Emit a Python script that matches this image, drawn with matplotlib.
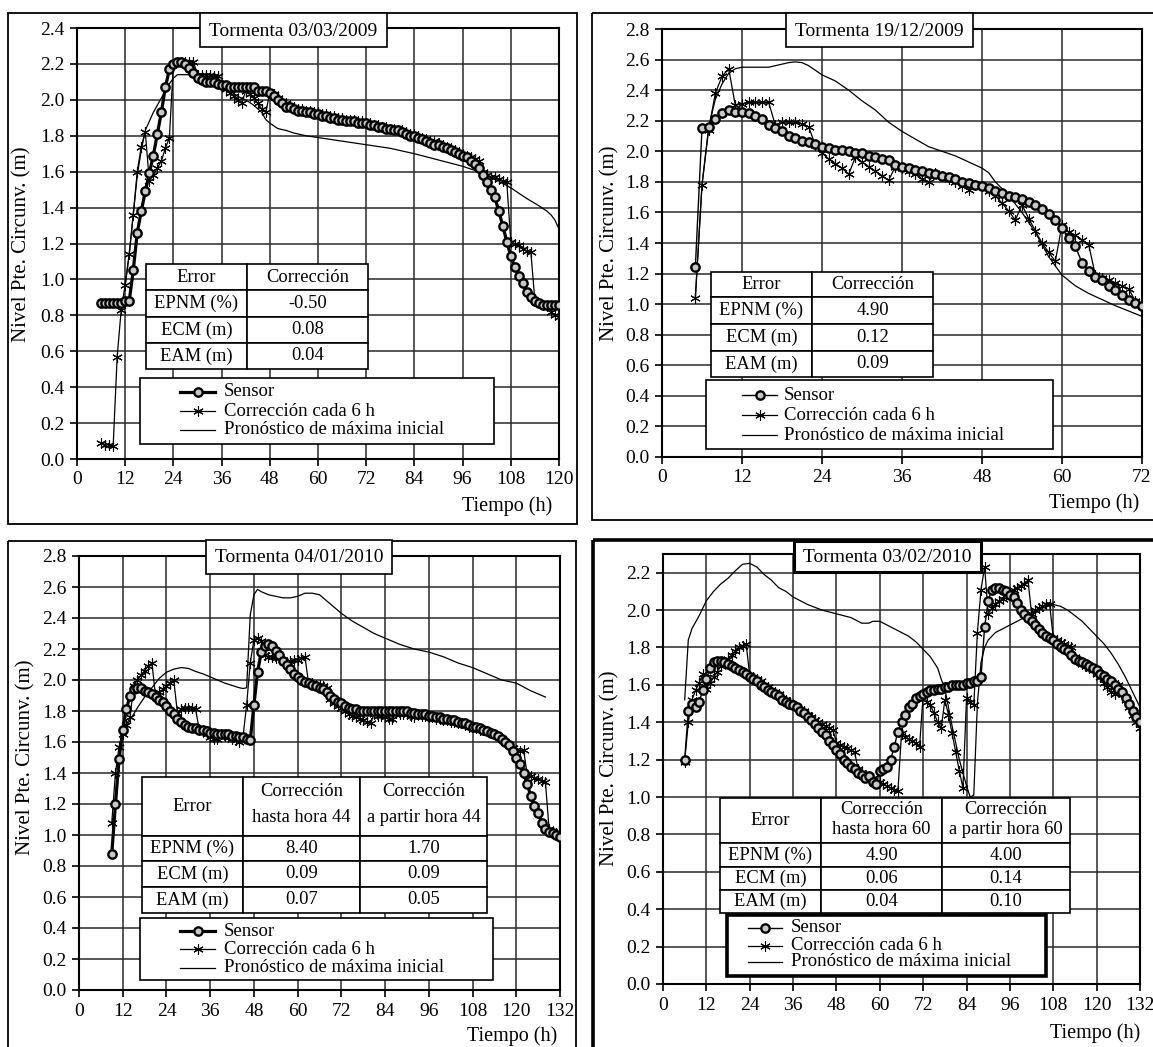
import numpy as np
import matplotlib
matplotlib.use("Agg")
import matplotlib.pyplot as plt
from matplotlib.transforms import Affine2D
from matplotlib.patches import Rectangle
from matplotlib.lines import Line2D
from matplotlib.ticker import FormatStrFormatter

plt.rcParams['font.family'] = ['Liberation Serif', 'DejaVu Serif']

# ---------------- DATA ----------------
titles = ["Tormenta 03/03/2009", "Tormenta 19/12/2009", "Tormenta 04/01/2010", "Tormenta 03/02/2010"]
labels = ["Sensor", "Corrección cada 6 h", "Pronóstico de máxima inicial"]
ylabel = "Nivel Pte. Circunv. (m)"
xlabel = "Tiempo (h)"

# Panel 1: 03/03/2009
t1 = list(range(6, 121))
sensor1 = [0.87, 0.87, 0.87, 0.87, 0.87, 0.87,
           0.88, 0.88, 1.05, 1.26, 1.38, 1.49, 1.59, 1.69, 1.81, 1.93, 2.07, 2.17,
           2.20, 2.21, 2.21, 2.20, 2.18, 2.15, 2.12, 2.11, 2.10, 2.10, 2.10, 2.09,
           2.08, 2.08, 2.07, 2.07, 2.07, 2.07, 2.07, 2.07, 2.07, 2.05, 2.05, 2.05,
           2.04, 2.02, 2.00, 1.98, 1.96, 1.96, 1.95, 1.94, 1.94, 1.93, 1.93, 1.92,
           1.92, 1.91, 1.91, 1.90, 1.90, 1.89, 1.89, 1.88, 1.88, 1.88, 1.87, 1.87,
           1.87, 1.86, 1.86, 1.85, 1.85, 1.84, 1.84, 1.83, 1.83, 1.82, 1.81, 1.80,
           1.80, 1.79, 1.78, 1.77, 1.76, 1.75, 1.75, 1.74, 1.73, 1.72, 1.71, 1.70,
           1.69, 1.68, 1.66, 1.64, 1.62, 1.58, 1.54, 1.50, 1.46, 1.38, 1.30, 1.21,
           1.13, 1.07, 1.02, 0.98, 0.93, 0.90, 0.88, 0.87, 0.86, 0.86, 0.86, 0.86, 0.86]
corr1 = [0.09, 0.08, 0.08, 0.07, 0.57, 0.83, 0.97, 1.14, 1.36, 1.60, 1.74, 1.82,
         1.55, 1.58, 1.62, 1.66, 1.73, 1.79, 2.20, 2.21, 2.21, 2.21, 2.21, 2.21,
         2.14, 2.14, 2.14, 2.14, 2.13, 2.13, 2.08, 2.06, 2.04, 2.02, 2.00, 1.98,
         2.05, 2.03, 2.01, 1.98, 1.95, 1.93, 2.04, 2.03, 2.01, 1.99, 1.98, 1.97,
         1.96, 1.95, 1.95, 1.94, 1.94, 1.93, 1.93, 1.92, 1.92, 1.91, 1.91, 1.90,
         1.90, 1.89, 1.89, 1.89, 1.88, 1.88, 1.87, 1.87, 1.86, 1.86, 1.85, 1.85,
         1.84, 1.84, 1.83, 1.83, 1.82, 1.81, 1.81, 1.80, 1.79, 1.78, 1.77, 1.77,
         1.76, 1.75, 1.74, 1.73, 1.72, 1.71, 1.70, 1.69, 1.68, 1.67, 1.66, 1.60,
         1.58, 1.57, 1.57, 1.56, 1.55, 1.54, 1.21, 1.20, 1.19, 1.17, 1.16, 1.15,
         0.88, 0.87, 0.86, 0.85, 0.82, 0.80, 0.79]
prono1_t = [12, 13, 14, 15, 16, 17, 18, 19, 20, 21, 22, 23, 24, 25, 27, 29, 30, 32, 34, 36,
            38, 40, 42, 44, 46, 47, 48, 50, 52, 54, 57, 60, 66, 72, 78, 84, 90, 96, 100, 104,
            108, 112, 115, 117, 118, 119, 120]
prono1 = [0.97, 1.14, 1.36, 1.58, 1.72, 1.83, 1.88, 1.93, 1.97, 2.01, 2.05, 2.09, 2.12, 2.14,
          2.14, 2.14, 2.12, 2.11, 2.10, 2.07, 2.05, 2.02, 2.00, 1.97, 1.93, 1.89, 1.87, 1.84,
          1.83, 1.815, 1.80, 1.79, 1.77, 1.75, 1.73, 1.70, 1.665, 1.63, 1.60, 1.56, 1.51, 1.45,
          1.41, 1.38, 1.36, 1.33, 1.28]

# Panel 2: 19/12/2009
t2 = list(range(5, 73))
sensor2 = [1.24, 2.15, 2.16, 2.21, 2.25, 2.27, 2.26, 2.26, 2.25, 2.23, 2.21, 2.17,
           2.15, 2.13, 2.10, 2.09, 2.07, 2.06, 2.05, 2.03, 2.02, 2.01, 2.01, 2.00,
           1.99, 1.99, 1.97, 1.96, 1.95, 1.94, 1.91, 1.90, 1.89, 1.88, 1.87, 1.86,
           1.85, 1.84, 1.83, 1.82, 1.80, 1.79, 1.78, 1.77, 1.76, 1.74, 1.73, 1.71,
           1.70, 1.69, 1.67, 1.65, 1.62, 1.59, 1.55, 1.50, 1.43, 1.38, 1.27, 1.22,
           1.18, 1.16, 1.12, 1.09, 1.06, 1.03, 1.01, 0.99]
corr2 = [1.04, 1.78, 2.14, 2.38, 2.49, 2.54, 2.30, 2.31, 2.32, 2.32, 2.32, 2.32,
         2.17, 2.19, 2.19, 2.19, 2.18, 2.16, 2.04, 1.99, 1.95, 1.92, 1.89, 1.85,
         1.96, 1.93, 1.90, 1.87, 1.84, 1.81, 1.90, 1.89, 1.87, 1.85, 1.82, 1.80,
         1.86, 1.84, 1.82, 1.80, 1.77, 1.75, 1.78, 1.77, 1.74, 1.71, 1.66, 1.61,
         1.55, 1.65, 1.56, 1.48, 1.40, 1.34, 1.28, 1.52, 1.47, 1.45, 1.42, 1.39,
         1.19, 1.17, 1.16, 1.14, 1.12, 1.10, 1.02, 0.99]
prono2_t = [5, 6, 7, 8, 9, 10, 11, 12, 14, 16, 18, 19, 20, 21, 22, 23, 24, 25, 26, 28, 30,
            32, 34, 36, 38, 40, 42, 44, 46, 48, 49, 50, 52, 54, 56, 58, 60, 62, 64, 66, 68,
            70, 72]
prono2 = [1.04, 1.78, 2.16, 2.34, 2.44, 2.51, 2.54, 2.55, 2.55, 2.55, 2.57, 2.58, 2.585,
          2.58, 2.56, 2.53, 2.50, 2.48, 2.46, 2.40, 2.33, 2.27, 2.19, 2.13, 2.08, 2.03, 2.00,
          1.97, 1.93, 1.89, 1.86, 1.80, 1.71, 1.60, 1.47, 1.31, 1.19, 1.12, 1.07, 1.03, 0.99,
          0.955, 0.92]

# Panel 3: 04/01/2010
t3 = list(range(9, 133))
sensor3 = [0.88, 1.20, 1.49, 1.68, 1.81, 1.90, 1.94, 1.95, 1.95, 1.93, 1.92, 1.91,
           1.89, 1.87, 1.86, 1.83, 1.80, 1.78, 1.75, 1.73, 1.71, 1.70, 1.69, 1.69,
           1.68, 1.68, 1.67, 1.66, 1.66, 1.65, 1.65, 1.65, 1.65, 1.64, 1.64, 1.63,
           1.63, 1.62, 1.61, 1.84, 2.05, 2.18, 2.22, 2.23, 2.22, 2.19, 2.16, 2.12,
           2.10, 2.07, 2.04, 2.02, 2.00, 1.99, 1.98, 1.97, 1.96, 1.95, 1.94, 1.92,
           1.90, 1.88, 1.86, 1.85, 1.83, 1.82, 1.81, 1.81, 1.80, 1.80, 1.80, 1.80,
           1.80, 1.80, 1.80, 1.80, 1.80, 1.80, 1.80, 1.80, 1.80, 1.80, 1.79, 1.79,
           1.78, 1.78, 1.78, 1.77, 1.77, 1.76, 1.76, 1.75, 1.75, 1.74, 1.74, 1.73,
           1.72, 1.72, 1.71, 1.70, 1.70, 1.69, 1.68, 1.67, 1.66, 1.65, 1.64, 1.62,
           1.60, 1.58, 1.54, 1.50, 1.46, 1.40, 1.33, 1.25, 1.19, 1.14, 1.08, 1.04,
           1.02, 1.01, 1.00, 0.99]
corr3 = [1.08, 1.40, 1.57, 1.65, 1.71, 1.76, 1.96, 2.00, 2.03, 2.06, 2.09, 2.11,
         1.90, 1.92, 1.94, 1.96, 1.98, 2.00, 1.79, 1.81, 1.82, 1.82, 1.82, 1.81,
         1.68, 1.67, 1.65, 1.63, 1.62, 1.62, 1.65, 1.64, 1.63, 1.62, 1.61, 1.60,
         1.63, 1.84, 2.11, 2.26, 2.27, 2.25, 2.16, 2.15, 2.15, 2.14, 2.14, 2.13,
         2.11, 2.12, 2.13, 2.13, 2.14, 2.15, 1.98, 1.98, 1.97, 1.97, 1.96, 1.95,
         1.88, 1.85, 1.83, 1.82, 1.80, 1.78, 1.77, 1.76, 1.75, 1.74, 1.73, 1.72,
         1.78, 1.77, 1.77, 1.76, 1.75, 1.75, 1.79, 1.78, 1.78, 1.78, 1.77, 1.76,
         1.78, 1.77, 1.77, 1.76, 1.76, 1.75, 1.75, 1.74, 1.74, 1.73, 1.73, 1.72,
         1.72, 1.71, 1.70, 1.70, 1.69, 1.68, 1.68, 1.67, 1.66, 1.65, 1.64, 1.62,
         1.60, 1.58, 1.56, 1.55, 1.54, 1.55, 1.39, 1.38, 1.37, 1.36, 1.35, 1.34,
         1.04, 1.02, 1.01, 0.99]
prono3_t = [12, 14, 16, 18, 20, 22, 24, 26, 28, 30, 32, 34, 36, 38, 40, 42, 44, 45, 46, 47,
            48, 49, 50, 52, 54, 56, 58, 60, 62, 64, 66, 68, 70, 72, 75, 78, 81, 84, 88, 92,
            96, 100, 104, 108, 112, 116, 120, 124, 126, 128]
prono3 = [1.65, 1.74, 1.82, 1.89, 1.95, 2.01, 2.05, 2.07, 2.08, 2.075, 2.055, 2.04, 2.02,
          2.00, 1.98, 1.965, 1.95, 1.945, 1.95, 2.42, 2.55, 2.585, 2.57, 2.55, 2.54, 2.53,
          2.53, 2.54, 2.56, 2.56, 2.55, 2.51, 2.47, 2.43, 2.38, 2.34, 2.30, 2.27, 2.23, 2.20,
          2.18, 2.15, 2.11, 2.08, 2.04, 2.00, 1.98, 1.93, 1.91, 1.89]

# Panel 4: 03/02/2010
t4 = list(range(6, 133))
sensor4 = [1.20, 1.46, 1.50, 1.48, 1.51, 1.57, 1.63, 1.69, 1.72, 1.73, 1.73, 1.72,
           1.71, 1.70, 1.69, 1.68, 1.67, 1.66, 1.64, 1.63, 1.62, 1.60, 1.59, 1.57,
           1.56, 1.55, 1.54, 1.52, 1.51, 1.50, 1.49, 1.48, 1.46, 1.45, 1.43, 1.41,
           1.39, 1.37, 1.35, 1.33, 1.30, 1.28, 1.25, 1.23, 1.20, 1.18, 1.16, 1.15,
           1.13, 1.12, 1.10, 1.11, 1.08, 1.07, 1.14, 1.15, 1.16, 1.20, 1.27, 1.35,
           1.40, 1.44, 1.48, 1.50, 1.53, 1.54, 1.55, 1.56, 1.57, 1.57, 1.58, 1.58,
           1.59, 1.59, 1.60, 1.60, 1.60, 1.60, 1.61, 1.61, 1.62, 1.62, 1.64, 1.91,
           2.05, 2.11, 2.12, 2.12, 2.11, 2.10, 2.08, 2.07, 2.04, 2.00, 1.98, 1.96,
           1.94, 1.92, 1.90, 1.88, 1.86, 1.85, 1.84, 1.82, 1.80, 1.79, 1.78, 1.76,
           1.74, 1.73, 1.72, 1.71, 1.70, 1.69, 1.68, 1.66, 1.65, 1.63, 1.62, 1.60,
           1.58, 1.56, 1.53, 1.50, 1.46, 1.43, 1.40]
corr4 = [1.19, 1.40, 1.52, 1.57, 1.61, 1.66, 1.58, 1.61, 1.64, 1.67, 1.70, 1.72,
         1.74, 1.76, 1.78, 1.80, 1.81, 1.82, 1.65, 1.64, 1.63, 1.62, 1.60, 1.59,
         1.57, 1.56, 1.55, 1.53, 1.52, 1.51, 1.49, 1.48, 1.47, 1.46, 1.44, 1.43,
         1.41, 1.40, 1.39, 1.38, 1.37, 1.36, 1.29, 1.28, 1.27, 1.26, 1.25, 1.24,
         1.15, 1.13, 1.12, 1.11, 1.10, 1.08, 1.08, 1.07, 1.06, 1.05, 1.04, 1.03,
         1.34, 1.32, 1.31, 1.30, 1.29, 1.27, 1.55, 1.51, 1.49, 1.45, 1.40, 1.37,
         1.52, 1.44, 1.34, 1.24, 1.14, 1.05, 1.53, 1.51, 1.49, 1.88, 2.11, 2.23,
         1.98, 2.01, 2.03, 2.05, 2.06, 2.08, 2.09, 2.11, 2.12, 2.13, 2.14, 2.16,
         1.98, 2.00, 2.01, 2.02, 2.03, 2.03, 1.85, 1.84, 1.83, 1.82, 1.81, 1.80,
         1.75, 1.73, 1.71, 1.70, 1.69, 1.68, 1.66, 1.64, 1.61, 1.59, 1.56, 1.55,
         1.60, 1.55, 1.52, 1.48, 1.44, 1.40, 1.37]
prono4_t = [6, 7, 8, 10, 12, 14, 16, 18, 20, 22, 24, 26, 28, 30, 32, 34, 36, 38, 40, 44, 48,
            52, 55, 57, 58, 60, 62, 64, 66, 68, 70, 72, 74, 76, 77, 78, 80, 82, 84, 85, 86,
            87, 88, 89, 90, 92, 96, 100, 104, 106, 108, 110, 112, 114, 116, 118, 120, 122,
            124, 126, 128, 130, 132]
prono4 = [1.52, 1.84, 1.90, 1.97, 2.05, 2.10, 2.14, 2.17, 2.21, 2.245, 2.25, 2.23, 2.19,
          2.16, 2.12, 2.10, 2.07, 2.05, 2.03, 2.00, 1.98, 1.96, 1.93, 1.93, 1.94, 1.94, 1.92,
          1.90, 1.88, 1.86, 1.83, 1.79, 1.75, 1.69, 1.63, 1.58, 1.38, 1.20, 1.06, 1.00, 1.01,
          1.50, 1.72, 1.80, 1.84, 1.88, 1.92, 1.96, 2.00, 2.02, 2.03, 2.02, 2.00, 1.97, 1.94,
          1.90, 1.86, 1.82, 1.77, 1.71, 1.64, 1.56, 1.48]

# Error tables
tab_rows = ["EPNM (%)", "ECM (m)", "EAM (m)"]
tab1_head = ["Error", "Corrección"]
tab1_vals = [["-0.50"], ["0.08"], ["0.04"]]
tab2_head = ["Error", "Corrección"]
tab2_vals = [["4.90"], ["0.12"], ["0.09"]]
tab3_head = ["Error", "Corrección\nhasta hora 44", "Corrección\na partir hora 44"]
tab3_vals = [["8.40", "1.70"], ["0.09", "0.09"], ["0.07", "0.05"]]
tab4_head = ["Error", "Corrección\nhasta hora 60", "Corrección\na partir hora 60"]
tab4_vals = [["4.90", "4.00"], ["0.06", "0.14"], ["0.04", "0.10"]]

# ---------------- FIGURE ----------------
W, H = 1153, 1047
fig = plt.figure(figsize=(W / 100, H / 100), dpi=100)
PX = Affine2D().scale(1.0 / W, -1.0 / H).translate(0, 1) + fig.transFigure

MFC = '#c8c8c8'


def rect(x0, y0, x1, y1, lw=1.2, fill=True, z=5):
    r = Rectangle((x0, y0), x1 - x0, y1 - y0, transform=PX,
                  facecolor='white' if fill else 'none', edgecolor='black',
                  linewidth=lw, zorder=z)
    fig.add_artist(r)


def sensor_style(lw):
    return dict(color='black', lw=lw, marker='o', ms=6, mew=1.7, mfc=MFC, mec='black')


corr_style = dict(color='black', lw=0.9, marker=(6, 2, 0), ms=7.5, mew=0.8)
prono_style = dict(color='black', lw=0.9)

panels = [
    dict(box=(77, 28, 559, 459), xmax=120, ymax=2.4, ytop=2.4,
         t=t1, s=sensor1, c=corr1, pt=prono1_t, p=prono1, slw=2.3,
         frame=(8, 13, 577, 524, 1.3), tbox=(200, 13, 387, 47, 1.2),
         ylab=(22, 244), xlab=(507, 506),
         table=dict(xe=[146, 247, 368], ye=[264, 290, 317, 343, 369], head=tab1_head,
                    vals=tab1_vals, hl=None),
         leg=dict(box=(140, 378, 494, 444), hx=(180, 215), tx=224, rows=[392, 411, 430], lw=1.2)),
    dict(box=(662, 29, 1142, 457), xmax=72, ymax=2.8, ytop=2.8,
         t=t2, s=sensor2, c=corr2, pt=prono2_t, p=prono2, slw=1.0,
         frame=(592, 13, 1165, 520, 1.3), tbox=(786, 13, 973, 47, 1.2),
         ylab=(610, 243), xlab=(1094, 503),
         table=dict(xe=[711, 812, 933], ye=[272, 297, 324, 351, 377], head=tab2_head,
                    vals=tab2_vals, hl=None),
         leg=dict(box=(706, 380, 1053, 449), hx=(742, 777), tx=784, rows=[395, 415, 435], lw=1.2)),
    dict(box=(79, 556, 560, 990), xmax=132, ymax=2.8, ytop=2.8,
         t=t3, s=sensor3, c=corr3, pt=prono3_t, p=prono3, slw=2.3,
         frame=(8, 541, 576, 1055, 1.3), tbox=(206, 540, 392, 574, 1.2),
         ylab=(26, 757), xlab=(512, 1036),
         table=dict(xe=[142, 243, 360, 487], ye=[777, 836, 861, 887, 913], head=tab3_head,
                    vals=tab3_vals, hl=(791, 817)),
         leg=dict(box=(140, 918, 493, 980), hx=(180, 215), tx=224, rows=[931, 949, 968], lw=1.2)),
    dict(box=(663, 554, 1140, 984), xmax=132, ymax=2.3, ytop=2.2,
         t=t4, s=sensor4, c=corr4, pt=prono4_t, p=prono4, slw=1.0,
         frame=(593, 540, 1165, 1055, 2.6), tbox=(794, 541, 981, 572, 2.2),
         ylab=(610, 768), xlab=(1095, 1033),
         table=dict(xe=[720, 821, 942, 1070], ye=[798, 843, 867, 890, 913], head=tab4_head,
                    vals=tab4_vals, hl=(810, 830)),
         leg=dict(box=(727, 915, 1046, 976), hx=(748, 782), tx=791, rows=[928, 946, 962], lw=2.6)),
]

for i, P in enumerate(panels):
    l, tp, r, b = P['box']
    ax = fig.add_axes([l / W, 1 - b / H, (r - l) / W, (b - tp) / H])
    ax.set_xlim(0, P['xmax'])
    ax.set_ylim(0, P['ymax'])
    ax.set_xticks(np.arange(0, P['xmax'] + 1, 12))
    ax.set_yticks(np.arange(0, P['ytop'] + 0.01, 0.2))
    ax.yaxis.set_major_formatter(FormatStrFormatter('%.1f'))
    ax.grid(True, color='#2a2a2a', lw=1.1)
    ax.set_axisbelow(True)
    for sp in ax.spines.values():
        sp.set_linewidth(1.5)
    ax.tick_params(direction='out', length=5, width=1.2, labelsize=14, pad=4)

    ax.plot(P['pt'], P['p'], zorder=2, **prono_style)
    ax.plot(P['t'], P['c'], zorder=3, **corr_style)
    ax.plot(P['t'], P['s'], zorder=4, **sensor_style(P['slw']))

    # outer frame
    fx0, fy0, fx1, fy1, flw = P['frame']
    rect(fx0, fy0, fx1, fy1, lw=flw, fill=False, z=5)
    # title box
    bx0, by0, bx1, by1, blw = P['tbox']
    rect(bx0, by0, bx1, by1, lw=blw, z=6)
    fig.text((bx0 + bx1) / 2, (by0 + by1) / 2 + 1, titles[i], transform=PX,
             ha='center', va='center', fontsize=14, zorder=8)
    # axis labels
    fig.text(P['ylab'][0], P['ylab'][1], ylabel, transform=PX, rotation=90,
             ha='center', va='center', fontsize=15)
    fig.text(P['xlab'][0], P['xlab'][1], xlabel, transform=PX,
             ha='center', va='center', fontsize=14.5)

    # error table
    T = P['table']
    xe, ye = T['xe'], T['ye']
    for ci in range(len(xe) - 1):
        rect(xe[ci], ye[0], xe[ci + 1], ye[1], lw=1.2, z=6)
        xc = (xe[ci] + xe[ci + 1]) / 2
        parts = T['head'][ci].split('\n')
        if len(parts) == 1:
            fig.text(xc, (ye[0] + ye[1]) / 2, parts[0], transform=PX, ha='center',
                     va='center', fontsize=13.3, zorder=8)
        else:
            for k, line in enumerate(parts):
                fig.text(xc, T['hl'][k], line, transform=PX, ha='center',
                         va='center', fontsize=13.3, zorder=8)
    for ri in range(3):
        y0, y1 = ye[ri + 1], ye[ri + 2]
        rect(xe[0], y0, xe[1], y1, lw=1.2, z=6)
        fig.text((xe[0] + xe[1]) / 2, (y0 + y1) / 2, tab_rows[ri], transform=PX,
                 ha='center', va='center', fontsize=13.3, zorder=8)
        for ci, v in enumerate(T['vals'][ri]):
            rect(xe[ci + 1], y0, xe[ci + 2], y1, lw=1.2, z=6)
            fig.text((xe[ci + 1] + xe[ci + 2]) / 2, (y0 + y1) / 2, v, transform=PX,
                     ha='center', va='center', fontsize=13.3, zorder=8)

    # legend
    L = P['leg']
    rect(*L['box'], lw=L['lw'], z=6)
    styles = [sensor_style(P['slw']), corr_style, prono_style]
    hx0, hx1 = L['hx']
    for k in range(3):
        y = L['rows'][k]
        ln = Line2D([hx0, (hx0 + hx1) / 2, hx1], [y, y, y], transform=PX,
                    markevery=[1], zorder=8, **styles[k])
        fig.add_artist(ln)
        fig.text(L['tx'], y, labels[k], transform=PX, ha='left', va='center',
                 fontsize=13.5, zorder=8)

fig.savefig("out.png", dpi=100)
